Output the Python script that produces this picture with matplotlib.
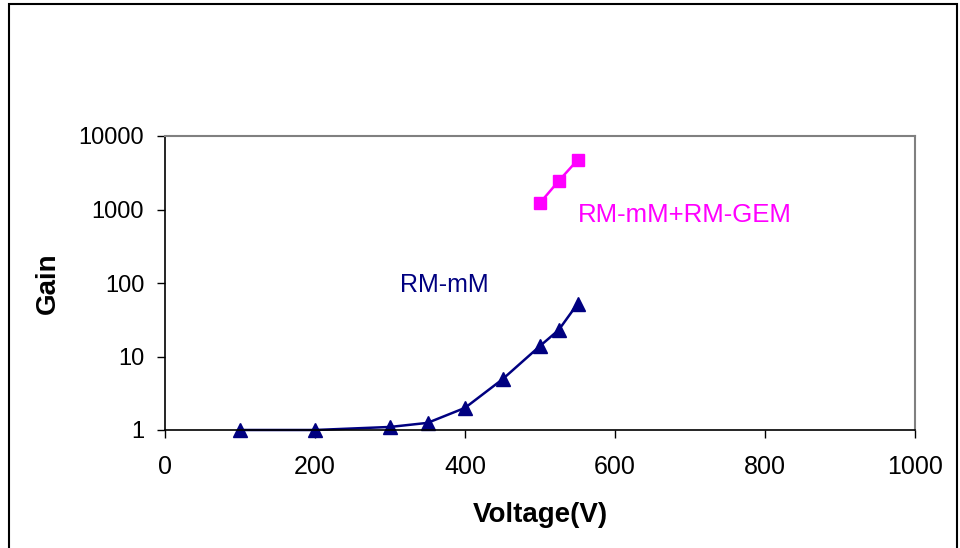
import matplotlib.pyplot as plt
from matplotlib.patches import Rectangle

plt.rcParams['font.family'] = ['Liberation Sans', 'DejaVu Sans']

# RM-mM gain curve
volt_mm = [100, 200, 300, 350, 400, 450, 500, 525, 550]
gain_mm = [1.0, 1.0, 1.1, 1.25, 2.0, 4.9, 13.9, 23, 52]

# RM-mM + RM-GEM
volt_gem = [500, 525, 550]
gain_gem = [1230, 2450, 4700]

x_ticks = [0, 200, 400, 600, 800, 1000]
y_ticks = [1, 10, 100, 1000, 10000]

navy = '#000080'
pink = '#ff00ff'

fig = plt.figure(figsize=(9.6, 5.48), dpi=100)
ax = fig.add_axes([165/960, 1 - 430/548, 750/960, 294/548])

ax.plot(volt_mm, gain_mm, color=navy, lw=1.8, marker='^', ms=10, mfc=navy, mec=navy, clip_on=False)
ax.plot(volt_gem, gain_gem, color=pink, lw=1.8, marker='s', ms=8.5, mfc=pink, mec=pink, clip_on=False)

ax.set_yscale('log')
ax.set_xlim(0, 1000)
ax.set_ylim(1, 10000)
ax.set_xticks(x_ticks)
ax.set_xticklabels([str(v) for v in x_ticks])
ax.set_yticks(y_ticks)
ax.set_yticklabels([str(v) for v in y_ticks])
ax.minorticks_off()
ax.tick_params(axis='both', direction='out', length=6, width=1, colors='black')
ax.tick_params(axis='x', labelsize=18, pad=12)
ax.tick_params(axis='y', labelsize=17, pad=9)

for side in ['top', 'right']:
    ax.spines[side].set_color('#808080')
    ax.spines[side].set_linewidth(1.5)
for side in ['left', 'bottom']:
    ax.spines[side].set_color('black')
    ax.spines[side].set_linewidth(1.2)

ax.text(313, 94, 'RM-mM', color=navy, fontsize=18, va='center', ha='left')
ax.text(551, 850, 'RM-mM+RM-GEM', color=pink, fontsize=18.5, va='center', ha='left')

fig.text(540/960, 1 - 515/548, 'Voltage(V)', fontsize=20, fontweight='bold', ha='center', va='center')
fig.text(48/960, 1 - 283/548, 'Gain', fontsize=20, fontweight='bold', ha='center', va='center', rotation=90)

fig.patches.append(Rectangle((9/960, -0.01), 948/960, 1.01 - 4/548, transform=fig.transFigure,
                             fill=False, edgecolor='black', lw=1.5))

fig.savefig('out.png', dpi=100)
